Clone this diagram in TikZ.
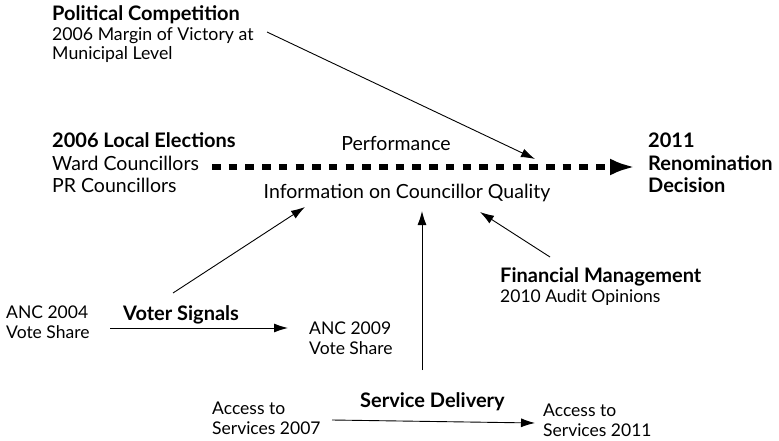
\documentclass[tikz,border=0pt]{standalone}
\usepackage{fontspec}
\setmainfont{Lato}
\usetikzlibrary{arrows.meta}
\begin{document}
\begin{tikzpicture}[x=1pt,y=-1pt,
  txt/.style={anchor=base west,inner sep=0pt,align=left,font=\fontsize{17.5}{20}\selectfont},
  big/.style={txt,font=\fontsize{19.5}{23}\selectfont},
  hd/.style={txt,font=\fontsize{20}{22}\selectfont\bfseries},
  >={Latex[length=14pt,width=9pt]}]
\useasboundingbox (0,0) rectangle (779,441);
\node[hd] (PC) at (52,21) {Political Competition};
\node[txt,font=\fontsize{17.7}{19}\selectfont] (PCa) at (52,60) {2006 Margin of Victory at\\Municipal Level};
\node[hd] (LE) at (52,148) {2006 Local Elections};
\node[big] (LEa) at (52,193) {Ward Councillors\\PR Councillors};
\node[hd] (RD) at (648,192) {2011\\Renomination\\Decision};
\node[big,anchor=base] (PF) at (396,150) {Performance};
\node[big,anchor=base] (IQ) at (407,198) {Information on Councillor Quality};
\node[hd] (FM) at (500,282) {Financial Management};
\node[txt] (FMa) at (500,302) {2010 Audit Opinions};
\node[txt] (A04) at (6,338) {ANC 2004\\Vote Share};
\node[hd] (VS) at (123,320) {Voter Signals};
\node[txt] (A09) at (309,354) {ANC 2009\\Vote Share};
\node[txt] (S07) at (212,434) {Access to\\Services 2007};
\node[hd] (SD) at (360,407) {Service Delivery};
\node[txt] (S11) at (543,436) {Access to\\Services 2011};
% connector ends
\coordinate (D0) at (212,167);
\coordinate (D1) at (635,167);
\coordinate (P0) at (267,32);
\coordinate (P1) at (535,159);
\coordinate (V0) at (173,293);
\coordinate (V1) at (305,207);
\coordinate (C0) at (422,370);
\coordinate (C1) at (422,211);
\coordinate (F0) at (550,257);
\coordinate (F1) at (480,212);
\coordinate (A0) at (110,328);
\coordinate (A1) at (288,328);
\coordinate (B0) at (332,420);
\coordinate (B1) at (535,423);
\draw[-{Latex[length=25pt,width=17pt]},line width=5.5pt,dash pattern=on 8.5pt off 8.2pt] (D0) -- (D1);
\draw[->,line width=0.9pt] (P0) -- (P1);
\draw[->,line width=0.9pt] (V0) -- (V1);
\draw[->,line width=0.9pt] (C0) -- (C1);
\draw[->,line width=0.9pt] (F0) -- (F1);
\draw[->,line width=0.9pt] (A0) -- (A1);
\draw[->,line width=0.9pt] (B0) -- (B1);
\end{tikzpicture}
\end{document}
